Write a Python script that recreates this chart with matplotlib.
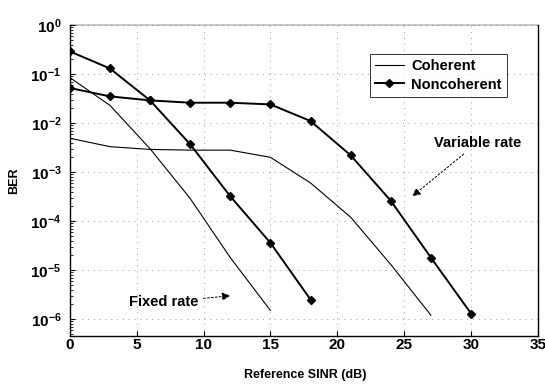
import matplotlib.pyplot as plt
from matplotlib.ticker import LogLocator, NullFormatter

plt.rcParams["font.family"] = ["Liberation Sans", "DejaVu Sans"]

# SINR grid (dB) for each curve
snr_fixed_nc = [0, 3, 6, 9, 12, 15, 18]
ber_fixed_nc = [0.29, 0.13, 0.029, 3.7e-3, 3.2e-4, 3.6e-5, 2.5e-6]

snr_fixed_coh = [0, 3, 6, 9, 12, 15]
ber_fixed_coh = [0.085, 0.023, 3.0e-3, 2.9e-4, 1.8e-5, 1.5e-6]

snr_var_nc = [0, 3, 6, 9, 12, 15, 18, 21, 24, 27, 30]
ber_var_nc = [0.052, 0.035, 0.029, 0.026, 0.026, 0.024, 0.011, 2.2e-3, 2.6e-4, 1.8e-5, 1.3e-6]

snr_var_coh = [0, 3, 6, 9, 12, 15, 18, 21, 24, 27]
ber_var_coh = [4.9e-3, 3.3e-3, 2.9e-3, 2.8e-3, 2.8e-3, 2.0e-3, 6.0e-4, 1.2e-4, 1.3e-5, 1.2e-6]

x_ticks = [0, 5, 10, 15, 20, 25, 30, 35]
y_ticks = [1e-6, 1e-5, 1e-4, 1e-3, 1e-2, 1e-1, 1]

fig = plt.figure(figsize=(5.45, 3.85), dpi=100)
ax = fig.add_axes([0.128, 0.127, 0.859, 0.808])

# coherent curves: thin plain lines
ax.semilogy(snr_fixed_coh, ber_fixed_coh, color="k", lw=0.8, label="Coherent")
ax.semilogy(snr_var_coh, ber_var_coh, color="k", lw=0.8)

# noncoherent curves: heavier lines with diamond markers
ax.semilogy(snr_fixed_nc, ber_fixed_nc, color="k", lw=1.4, marker="D", ms=4.5,
            label="Noncoherent")
ax.semilogy(snr_var_nc, ber_var_nc, color="k", lw=1.4, marker="D", ms=4.5)

ax.set_xlim(0, 35)
ax.set_ylim(4.5e-7, 1)
ax.set_xticks(x_ticks)
ax.set_yticks(y_ticks)
ax.yaxis.set_minor_locator(LogLocator(base=10, subs=range(2, 10), numticks=20))
ax.yaxis.set_minor_formatter(NullFormatter())
ax.tick_params(direction="in", labelsize=11, width=0.8)
ax.tick_params(axis="x", pad=1.5)
ax.tick_params(axis="y", pad=6)
ax.tick_params(which="minor", direction="in", length=2)
for lbl in ax.get_xticklabels() + ax.get_yticklabels():
    lbl.set_fontweight("bold")

ax.grid(True, which="major", color="0.6", ls=(0, (1, 5)), lw=0.7)
for side in ax.spines.values():
    side.set_linewidth(1.0)
ax.spines["top"].set_linewidth(0.3)

ax.set_xlabel("Reference SINR (dB)", fontsize=9, fontweight="bold")
ax.set_ylabel("BER", fontsize=9, fontweight="bold")
ax.xaxis.set_label_coords(0.502, -0.105)
ax.yaxis.set_label_coords(-0.105, 0.5)

leg = ax.legend(loc="upper left", bbox_to_anchor=(0.625, 0.93), fontsize=10.5,
                frameon=True, fancybox=False, edgecolor="k", handlelength=2.0,
                handletextpad=0.5, borderpad=0.35, labelspacing=0.3)
leg.get_frame().set_linewidth(0.7)
for txt in leg.get_texts():
    txt.set_fontweight("bold")

arrow = dict(arrowstyle="-|>", color="k", lw=0.7, ls=(0, (2, 2)),
             mutation_scale=12, shrinkA=2, shrinkB=0)
ax.annotate("Variable rate", xy=(25.6, 3.2e-4), xytext=(30.5, 4.0e-3),
            ha="center", va="center", fontsize=10.5, fontweight="bold",
            arrowprops=arrow)
ax.annotate("Fixed rate", xy=(12.0, 3.0e-6), xytext=(7.0, 2.2e-6),
            ha="center", va="center", fontsize=10.5, fontweight="bold",
            arrowprops=arrow)

fig.savefig("out.png", dpi=100)
